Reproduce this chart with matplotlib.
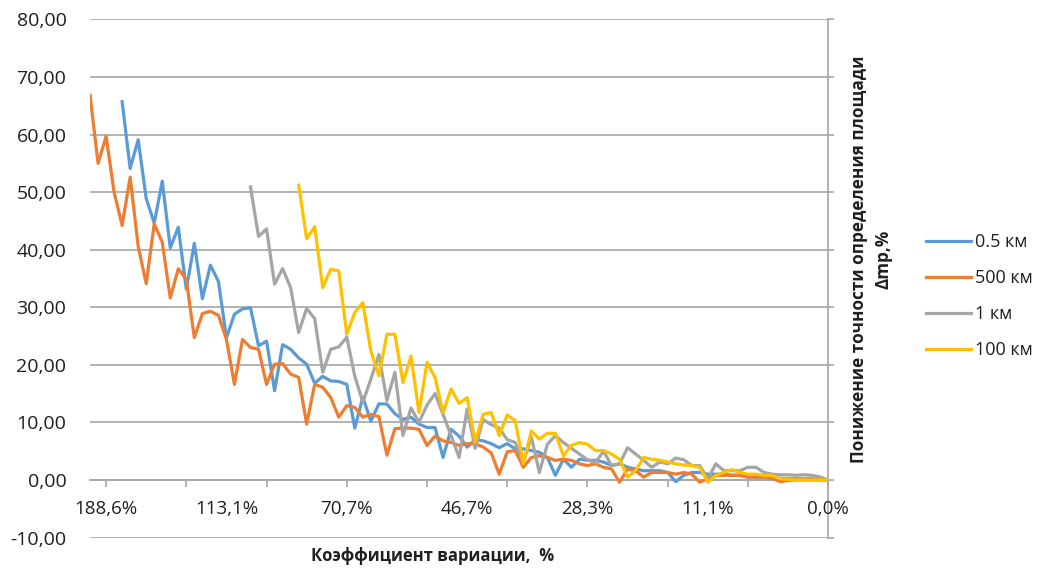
import numpy as np
import matplotlib
matplotlib.use("Agg")
import matplotlib.pyplot as plt

plt.rcParams['font.family'] = ['Open Sans', 'Noto Sans', 'DejaVu Sans']

# categories are indexed left to right (93 values of the coefficient of variation)
n_cat = 93
x_labels = ["188,6%", "113,1%", "70,7%", "46,7%", "28,3%", "11,1%", "0,0%"]
x_label_pos = [2, 17, 32, 47, 62, 77, 92]
x_tick_pos = list(range(2, 93, 10))

# series values, each starts at its own first category
blue_start = 4
blue = [65.7, 54.1, 59.1, 48.9, 44.6, 51.9,
        40.3, 43.9, 33.1, 41.1, 31.5, 37.3, 34.5, 24.7, 28.8, 29.7,
        29.9, 23.3, 24.1, 15.5, 23.5, 22.7, 21.2, 20.1, 16.8, 18.0,
        17.2, 17.1, 16.6, 9.0, 14.4, 10.2, 13.2, 13.2, 11.5, 10.5,
        10.9, 9.7, 9.1, 9.1, 3.9, 8.8, 7.6, 5.7, 7.0, 6.8,
        6.3, 5.6, 6.3, 5.4, 5.4, 5.1, 4.8, 3.9, 0.8, 3.6,
        2.2, 3.6, 3.4, 3.4, 3.1, 2.5, 2.8, 2.2, 1.9, 1.6,
        1.6, 1.6, 1.3, -0.3, 0.8, 1.3, 1.3, 1.0, 1.0, 1.0,
        0.8, 0.8, 0.5, 0.5, 0.5, 0.3, 0.3, 0.2, 0.2, 0.2,
        0.2, 0.1, 0.0]

orange_start = 0
orange = [66.8, 55.0, 59.7, 50.0, 44.2, 52.6, 40.6, 34.1, 44.5, 41.3,
          31.6, 36.7, 34.8, 24.7, 28.9, 29.3, 28.6, 24.4, 16.6, 24.4,
          23.0, 22.7, 16.6, 20.1, 20.2, 18.4, 17.8, 9.7, 16.6, 16.1,
          14.3, 10.9, 12.9, 12.6, 10.9, 11.4, 11.0, 4.3, 8.9, 9.0,
          9.0, 8.8, 6.0, 7.6, 6.8, 6.5, 6.0, 6.3, 6.3, 5.7,
          4.7, 1.0, 4.9, 5.1, 2.2, 3.9, 4.2, 3.9, 3.4, 3.6,
          3.4, 2.8, 2.5, 2.8, 2.2, 1.9, -0.4, 1.9, 1.6, 0.5,
          1.3, 1.3, 1.3, 1.0, 1.3, 1.0, -0.4, 0.2, 0.8, 0.8,
          0.8, 0.8, 0.5, 0.5, 0.5, 0.3, -0.3, -0.1, 0.0, 0.0,
          0.0, 0.0, 0.0]

gray_start = 20
gray = [50.9, 42.3, 43.6, 34.0, 36.7, 33.4, 25.6, 29.8, 28.0, 18.7,
        22.7, 23.1, 24.8, 18.0, 13.5, 17.5, 21.8, 13.8, 18.7, 7.7,
        12.5, 10.0, 13.0, 15.0, 11.4, 7.7, 3.9, 12.3, 5.5, 10.5,
        9.6, 9.0, 7.0, 6.5, 3.0, 7.5, 1.3, 6.2, 7.7, 6.5,
        5.5, 4.5, 3.5, 3.0, 5.0, 2.5, 2.8, 5.6, 4.5, 3.4,
        2.2, 3.1, 2.8, 3.8, 3.5, 2.5, 2.5, 0.2, 2.8, 1.6,
        1.6, 1.6, 2.2, 2.2, 1.3, 1.0, 0.9, 0.9, 0.8, 0.9,
        0.8, 0.5, 0.0]

yellow_start = 26
yellow = [51.2, 41.9, 44.0, 33.4,
          36.6, 36.3, 25.3, 29.1, 30.8, 22.4, 18.1, 25.3, 25.3, 16.9,
          21.5, 11.7, 20.4, 17.8, 11.7, 15.8, 13.3, 14.3, 6.6, 11.4,
          11.7, 7.7, 11.3, 10.3, 2.8, 8.5, 7.1, 8.1, 8.1, 4.2,
          6.0, 6.5, 6.2, 5.1, 5.1, 4.5, 3.6, 0.5, 1.6, 3.9,
          3.6, 3.4, 3.1, 2.8, 2.6, 2.5, 2.2, -0.4, 0.8, 1.3,
          1.8, 1.3, 1.0, 1.0, 0.8, 0.8, 0.2, 0.1, 0.0, 0.0,
          0.0, 0.0, 0.0]

series = [
    ("0.5 км", blue_start, blue, "#5B9BD5"),
    ("500 км", orange_start, orange, "#ED7D31"),
    ("1 км", gray_start, gray, "#A5A5A5"),
    ("100 км", yellow_start, yellow, "#FFC000"),
]

text_col = "#1f1f1f"
grid_col = "#a6a6a6"

fig = plt.figure(figsize=(10.47, 5.70), dpi=100)
ax = fig.add_axes([0.086, 0.056, 0.705, 0.911])

for name, start, vals, col in series:
    x = np.arange(start, start + len(vals))
    ax.plot(x, vals, color=col, lw=2.3, label=name, zorder=3,
            solid_joinstyle='round')

ax.set_xlim(0, n_cat - 1)
ax.set_ylim(-10.1, 80.1)

# value axis: labels on the left, line and tick marks on the right
yt = list(range(-10, 81, 10))
ax.set_yticks(yt)
ax.set_yticklabels([f"{v:.2f}".replace('.', ',') for v in yt])
ax.tick_params(axis='y', left=False, labelleft=True, right=True,
               labelright=False, direction='out', length=4,
               color=grid_col, width=1.2, pad=13,
               labelsize=14, labelcolor=text_col)
ax.yaxis.grid(True, color=grid_col, lw=1.2, zorder=0)

# category axis crosses at zero
ax.set_xticks(x_tick_pos)
ax.set_xticklabels([])
ax.tick_params(axis='x', direction='out', length=5, color=grid_col,
               width=1.2)
ax.spines['bottom'].set_position(('data', 0))
ax.spines['bottom'].set_color(grid_col)
ax.spines['bottom'].set_linewidth(1.2)
ax.spines['bottom'].set_zorder(1)
ax.spines['right'].set_color(grid_col)
ax.spines['right'].set_linewidth(1.2)
ax.spines['top'].set_visible(False)
ax.spines['left'].set_visible(False)

for pos, lab in zip(x_label_pos, x_labels):
    ax.text(pos, -5, lab, ha='center', va='center', fontsize=13.5,
            color=text_col)

fig.text(0.413, 0.024, "Коэффициент вариации,  %", ha='center',
         va='center', fontsize=12, fontweight='bold', color=text_col)

fig.text(0.832, 0.545,
         "Понижение точности определения площади\nΔmp,%",
         ha='center', va='center', rotation=90, fontsize=12.3,
         fontweight='bold', color=text_col, linespacing=1.45,
         multialignment='center')

fig.legend(loc='center left', bbox_to_anchor=(0.869, 0.48), frameon=False,
           fontsize=13, handlelength=2.5, handletextpad=0.2,
           labelspacing=1.0, labelcolor=text_col)

fig.savefig("out.png", dpi=100)
